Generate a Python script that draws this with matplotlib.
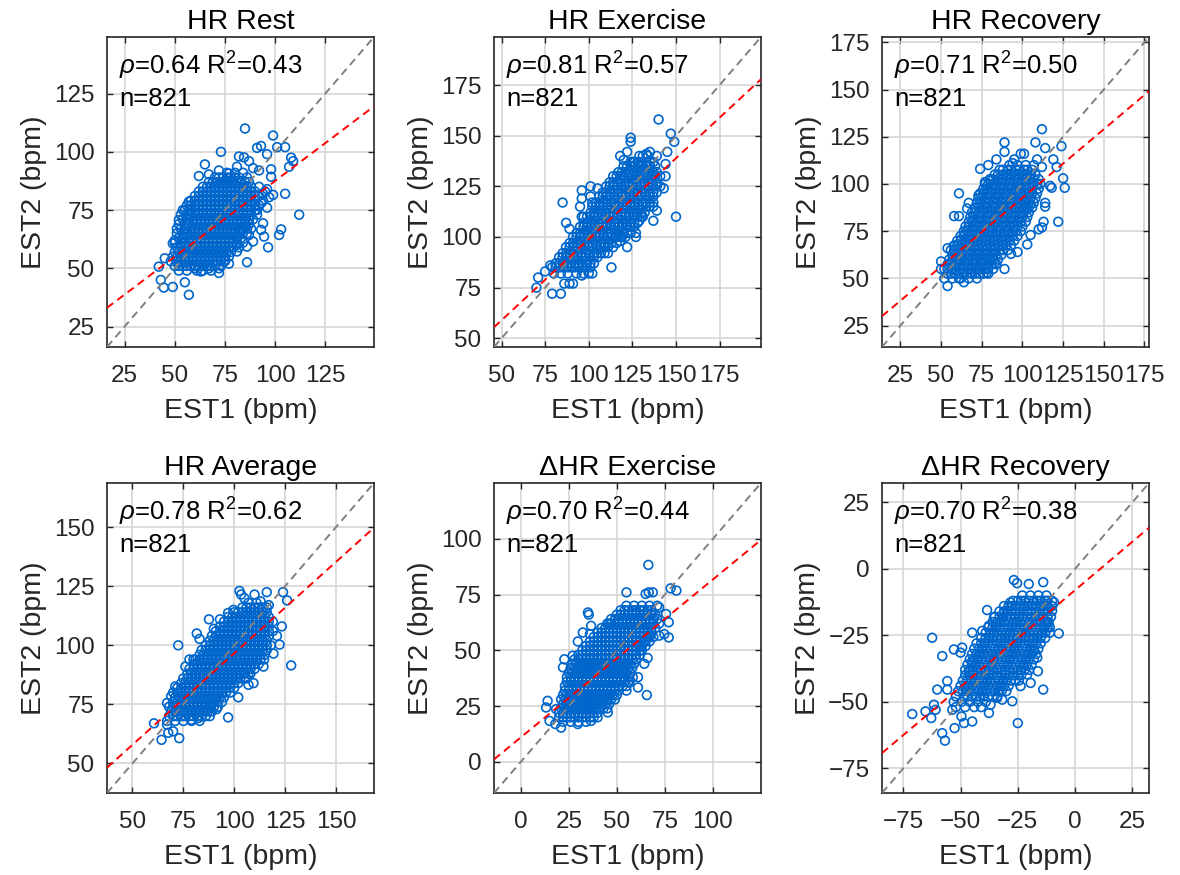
import matplotlib
matplotlib.use("Agg")
import matplotlib.pyplot as plt

plt.rcParams["font.family"] = ["Liberation Sans", "DejaVu Sans"]
plt.rcParams["mathtext.fontset"] = "custom"
plt.rcParams["mathtext.rm"] = "Liberation Sans"
plt.rcParams["mathtext.it"] = "Liberation Sans:italic"

# --- data (EST1, EST2 in bpm) ---
# dense cores: (EST2, [EST1 ...]) rows; loose points: (EST1, EST2)
rest_core = [
    (49, [52, 56, 61, 64, 68]),
    (51, [50, 54, 58, 62, 66, 70, 73]),
    (53, [48, 51, 55, 59, 63, 67, 71, 75]),
    (55, [49, 53, 57, 61, 65, 69, 73, 77]),
    (57, [50, 54, 58, 62, 66, 70, 74, 78]),
    (59, [51, 55, 59, 63, 67, 71, 75, 79, 82]),
    (61, [50, 53, 57, 61, 65, 69, 73, 77, 81, 84]),
    (63, [52, 55, 59, 63, 67, 71, 75, 79, 83]),
    (65, [51, 54, 58, 62, 66, 70, 74, 78, 82, 86]),
    (67, [53, 56, 60, 64, 68, 72, 76, 80, 84, 88]),
    (69, [52, 55, 59, 63, 67, 71, 75, 79, 83, 87]),
    (71, [54, 57, 61, 65, 69, 73, 77, 81, 85, 89]),
    (73, [53, 56, 60, 64, 68, 72, 76, 80, 84, 88, 91]),
    (75, [55, 58, 62, 66, 70, 74, 78, 82, 86, 90]),
    (77, [56, 60, 64, 68, 72, 76, 80, 84, 88, 92]),
    (79, [58, 62, 66, 70, 74, 78, 82, 86, 90, 94]),
    (81, [60, 64, 68, 72, 76, 80, 84, 88, 92]),
    (83, [62, 66, 70, 74, 78, 82, 86, 90, 95]),
    (85, [64, 68, 72, 76, 80, 84, 88, 92]),
    (87, [67, 71, 75, 79, 83, 87]),
    (89, [70, 74, 78, 82, 86]),
    (91, [76, 80, 84]),
]
rest_core2 = [
    (51, [52, 56, 60, 64, 68]),
    (53, [53, 57, 61, 65, 69, 73]),
    (55, [51, 55, 59, 63, 67, 71, 75]),
    (57, [52, 56, 60, 64, 68, 72, 76]),
    (59, [53, 57, 61, 65, 69, 73, 77]),
    (61, [55, 59, 63, 67, 71, 75, 79]),
    (63, [54, 57, 61, 65, 69, 73, 77, 81]),
    (65, [56, 60, 64, 68, 72, 76, 80, 84]),
    (67, [55, 58, 62, 66, 70, 74, 78, 82, 86]),
    (69, [57, 61, 65, 69, 73, 77, 81, 85]),
    (71, [56, 59, 63, 67, 71, 75, 79, 83, 87]),
    (73, [58, 62, 66, 70, 74, 78, 82, 86]),
    (75, [57, 60, 64, 68, 72, 76, 80, 84, 88]),
    (77, [58, 62, 66, 70, 74, 78, 82, 86, 90]),
    (79, [60, 64, 68, 72, 76, 80, 84, 88]),
    (81, [62, 66, 70, 74, 78, 82, 86, 90]),
    (83, [64, 68, 72, 76, 80, 84, 88]),
    (85, [66, 70, 74, 78, 82, 86]),
    (87, [69, 73, 77, 81, 85]),
    (89, [72, 76, 80]),
]
rest_extra = [
    (85, 110), (99, 107), (93, 102.5), (91, 101.7), (101, 102), (105, 102), (96, 99),
    (73, 100), (82, 98), (84.5, 97.6), (87, 96), (108, 97.5), (109, 96), (107, 93.6),
    (65, 94.6), (62, 89.6), (67, 90.3), (72, 92), (81, 93.6), (77, 90.7), (98, 92.5),
    (98, 89.3), (89, 93), (92, 92), (105, 82), (112, 73), (96, 76), (99, 81.5),
    (97, 80.5), (103, 66.7), (102, 64.3), (96.5, 59), (94.5, 63.6), (93, 66.5),
    (94, 69.3), (89, 61.5), (86, 59.3), (87, 64.3), (86, 52.6), (81, 57.2), (81, 60),
    (72, 50), (72, 48), (57, 38.6), (55, 44), (49, 42), (44.5, 41.7), (43, 45),
    (42, 50.7), (45, 54.3), (49, 60.7), (50, 62), (51, 67), (52, 70.7), (57, 78.6),
    (54, 75), (67, 50), (63, 48.6), (77, 52), (75, 53.6), (60, 50), (81, 63.6),
    (83, 66.5), (85, 68), (87, 69), (91, 75), (93, 78), (94, 82), (96, 84),
]

ex_core = [
    (82, [80, 84, 88, 93, 97]),
    (85, [79, 83, 88, 92, 96, 101]),
    (87, [81, 86, 90, 94, 99, 103]),
    (90, [83, 87, 92, 96, 101, 105]),
    (92, [85, 89, 94, 98, 103, 107, 111]),
    (95, [87, 91, 96, 100, 105, 109, 114]),
    (97, [89, 93, 98, 102, 107, 111, 116]),
    (100, [91, 95, 100, 104, 109, 113, 118, 121]),
    (102, [93, 97, 102, 106, 111, 115, 120, 124]),
    (105, [95, 99, 104, 108, 113, 117, 122, 126]),
    (107, [97, 101, 106, 110, 115, 119, 124, 128]),
    (110, [99, 103, 108, 112, 117, 121, 126, 130]),
    (112, [101, 105, 110, 114, 119, 123, 128, 132]),
    (115, [102, 106, 111, 115, 120, 124, 129, 133, 137]),
    (117, [104, 108, 113, 117, 122, 126, 131, 135]),
    (120, [106, 110, 115, 119, 124, 128, 133, 137]),
    (122, [108, 112, 117, 121, 126, 130, 135, 139]),
    (125, [110, 114, 119, 123, 128, 132, 137, 141]),
    (127, [112, 116, 121, 125, 130, 134, 139]),
    (130, [114, 118, 123, 127, 132, 136, 141]),
    (132, [117, 121, 126, 130, 135, 139]),
    (135, [120, 124, 129, 133, 138]),
    (137, [124, 128, 133, 137]),
    (140, [129, 134, 139]),
]
ex_core2 = [
    (85, [81, 85, 90, 94, 98]),
    (87, [83, 88, 92, 96, 101]),
    (90, [85, 89, 94, 98, 103]),
    (92, [87, 91, 96, 100, 105, 109]),
    (95, [89, 93, 98, 102, 107, 111]),
    (97, [91, 95, 100, 104, 109, 113]),
    (100, [93, 97, 102, 106, 111, 115, 119]),
    (102, [95, 99, 104, 108, 113, 117, 122]),
    (105, [97, 101, 106, 110, 115, 119, 124]),
    (107, [99, 103, 108, 112, 117, 121, 126]),
    (110, [101, 105, 110, 114, 119, 123, 128]),
    (112, [103, 107, 112, 116, 121, 125, 130]),
    (115, [104, 108, 113, 117, 122, 126, 131, 135]),
    (117, [106, 110, 115, 119, 124, 128, 133]),
    (120, [108, 112, 117, 121, 126, 130, 135]),
    (122, [110, 114, 119, 123, 128, 132, 137]),
    (125, [112, 116, 121, 125, 130, 134, 139]),
    (127, [114, 118, 123, 127, 132, 136]),
    (130, [116, 120, 125, 129, 134, 138]),
    (132, [119, 123, 128, 132, 137]),
    (135, [122, 126, 131, 135]),
    (137, [126, 130, 135]),
]
ex_extra = [
    (140, 158), (147, 151), (149, 147), (124, 149), (124, 147), (150, 110), (85, 117),
    (96, 123), (96, 119), (101, 125), (105, 124), (87, 107), (89, 104), (96, 110),
    (71, 80), (70, 75), (75, 83), (78, 86), (79, 72), (84, 72), (86, 77), (89, 77),
    (91, 77), (96, 81), (100, 82), (102, 82), (113, 85), (122, 95), (127, 102),
    (127, 100), (118, 98), (116, 100), (137, 108), (143, 124), (144, 130), (144, 136),
    (145, 142), (135, 142), (133, 141), (131, 140), (118, 140), (120, 138), (122, 142),
    (125, 137), (126, 137), (137, 117), (139, 113), (129, 108), (131, 110), (101, 120),
    (102, 117), (95, 115), (97, 110),
]

rec_core = [
    (50, [57, 62, 67, 72]),
    (52.5, [54, 59, 64, 69, 74, 79]),
    (55, [52, 57, 62, 67, 72, 77, 82]),
    (57.5, [54, 59, 64, 69, 74, 79, 84]),
    (60, [55, 60, 65, 70, 75, 80, 85]),
    (62.5, [57, 62, 67, 72, 77, 82, 87]),
    (65, [56, 61, 66, 71, 76, 81, 86, 91]),
    (67.5, [58, 63, 68, 73, 78, 83, 88, 93]),
    (70, [60, 65, 70, 75, 80, 85, 90, 95]),
    (72.5, [62, 67, 72, 77, 82, 87, 92, 97]),
    (75, [64, 69, 74, 79, 84, 89, 94, 99]),
    (77.5, [65, 70, 75, 80, 85, 90, 95, 100]),
    (80, [67, 72, 77, 82, 87, 92, 97, 102]),
    (82.5, [68, 73, 78, 83, 88, 93, 98, 103]),
    (85, [69, 74, 79, 84, 89, 94, 99, 104]),
    (87.5, [71, 76, 81, 86, 91, 96, 101, 106]),
    (90, [72, 77, 82, 87, 92, 97, 102, 107]),
    (92.5, [73, 78, 83, 88, 93, 98, 103, 108]),
    (95, [74, 79, 84, 89, 94, 99, 104, 109]),
    (97.5, [76, 81, 86, 91, 96, 101, 106, 110]),
    (100, [77, 82, 87, 92, 97, 102, 107, 111]),
    (102.5, [80, 85, 90, 95, 100, 105, 110]),
    (105, [83, 88, 93, 98, 103, 108]),
    (107.5, [86, 91, 96, 101, 106]),
    (110, [92, 97, 102, 107]),
]
rec_core2 = [
    (52.5, [56, 61, 66, 71, 76]),
    (55, [54, 59, 64, 69, 74, 79]),
    (57.5, [56, 61, 66, 71, 76, 81]),
    (60, [57, 62, 67, 72, 77, 82]),
    (62.5, [59, 64, 69, 74, 79, 84]),
    (65, [58, 63, 68, 73, 78, 83, 88]),
    (67.5, [60, 65, 70, 75, 80, 85, 90]),
    (70, [62, 67, 72, 77, 82, 87, 92]),
    (72.5, [64, 69, 74, 79, 84, 89, 94]),
    (75, [66, 71, 76, 81, 86, 91, 96]),
    (77.5, [67, 72, 77, 82, 87, 92, 97]),
    (80, [69, 74, 79, 84, 89, 94, 99]),
    (82.5, [70, 75, 80, 85, 90, 95, 100]),
    (85, [71, 76, 81, 86, 91, 96, 101]),
    (87.5, [73, 78, 83, 88, 93, 98, 103]),
    (90, [74, 79, 84, 89, 94, 99, 104]),
    (92.5, [75, 80, 85, 90, 95, 100, 105]),
    (95, [76, 81, 86, 91, 96, 101, 106]),
    (97.5, [78, 83, 88, 93, 98, 103]),
    (100, [79, 84, 89, 94, 99, 104, 109]),
    (102.5, [82, 87, 92, 97, 102, 107]),
    (105, [85, 90, 95, 100, 105]),
    (107.5, [88, 93, 98, 103]),
]
rec_extra = [
    (112, 129), (89, 122), (89, 117), (108, 122), (114, 119), (124, 120), (99, 116),
    (101, 116), (84, 113), (74, 108), (79, 110), (95, 113), (94, 111), (109, 113),
    (112, 109), (119, 113), (121, 109), (125, 103), (126, 98), (118, 98), (117, 99),
    (61, 95), (114, 90), (114, 88), (122, 80), (113, 80), (112, 77), (110, 76),
    (105, 73), (103, 68), (97, 64), (93, 63), (83, 58), (89, 55), (78, 53), (68, 53),
    (64, 48), (61, 50), (54, 46), (52, 50), (50, 55), (50, 59), (54, 66), (58, 83),
    (61, 83), (66, 87), (67, 90), (73, 94), (77, 101), (80, 102), (64, 73), (58, 67),
    (103, 87), (105, 89),
]

avg_core = [
    (68, [67, 71, 75, 79, 83]),
    (70, [68, 72, 76, 80, 84, 88]),
    (72, [69, 73, 77, 81, 85, 89]),
    (74, [68, 72, 76, 80, 84, 88, 92]),
    (76, [70, 74, 78, 82, 86, 90, 94]),
    (78, [71, 75, 79, 83, 87, 91, 95]),
    (80, [70, 74, 78, 82, 86, 90, 94, 98]),
    (82, [72, 76, 80, 84, 88, 92, 96, 100]),
    (84, [74, 78, 82, 86, 90, 94, 98, 102]),
    (86, [75, 79, 83, 87, 91, 95, 99, 103, 106]),
    (88, [77, 81, 85, 89, 93, 97, 101, 105, 108]),
    (90, [78, 82, 86, 90, 94, 98, 102, 106, 110]),
    (92, [80, 84, 88, 92, 96, 100, 104, 108, 112]),
    (94, [81, 85, 89, 93, 97, 101, 105, 109, 113]),
    (96, [83, 87, 91, 95, 99, 103, 107, 111, 115]),
    (98, [84, 88, 92, 96, 100, 104, 108, 112, 116]),
    (100, [86, 90, 94, 98, 102, 106, 110, 114, 118]),
    (102, [88, 92, 96, 100, 104, 108, 112, 116]),
    (104, [89, 93, 97, 101, 105, 109, 113, 117]),
    (106, [91, 95, 99, 103, 107, 111, 115, 119]),
    (108, [93, 97, 101, 105, 109, 113, 117]),
    (110, [95, 99, 103, 107, 111, 115, 119]),
    (112, [97, 101, 105, 109, 113, 117]),
    (114, [100, 104, 108, 112, 116]),
    (116, [104, 108, 112, 116]),
    (118, [107, 111]),
]
avg_core2 = [
    (70, [70, 74, 78, 82, 86]),
    (72, [71, 75, 79, 83, 87]),
    (74, [70, 74, 78, 82, 86, 90]),
    (76, [72, 76, 80, 84, 88, 92]),
    (78, [73, 77, 81, 85, 89, 93]),
    (80, [72, 76, 80, 84, 88, 92, 96]),
    (82, [74, 78, 82, 86, 90, 94, 98]),
    (84, [76, 80, 84, 88, 92, 96, 100]),
    (86, [77, 81, 85, 89, 93, 97, 101, 105]),
    (88, [79, 83, 87, 91, 95, 99, 103, 107]),
    (90, [80, 84, 88, 92, 96, 100, 104, 108]),
    (92, [82, 86, 90, 94, 98, 102, 106, 110]),
    (94, [83, 87, 91, 95, 99, 103, 107, 111]),
    (96, [85, 89, 93, 97, 101, 105, 109, 113]),
    (98, [86, 90, 94, 98, 102, 106, 110, 114]),
    (100, [88, 92, 96, 100, 104, 108, 112, 116]),
    (102, [90, 94, 98, 102, 106, 110, 114]),
    (104, [91, 95, 99, 103, 107, 111, 115]),
    (106, [93, 97, 101, 105, 109, 113, 117]),
    (108, [95, 99, 103, 107, 111, 115]),
    (110, [97, 101, 105, 109, 113, 117]),
    (112, [99, 103, 107, 111, 115]),
    (114, [102, 106, 110, 114]),
    (116, [106, 110, 114]),
]
avg_extra = [
    (102.6, 123), (103.4, 121.5), (105, 120), (110, 121.5), (116, 122.5), (124, 122.5),
    (126, 119), (128, 91.5), (72.5, 100), (81.6, 105), (83, 102.7), (87.6, 111),
    (90, 107), (93, 111), (76, 91), (78, 94), (80, 94), (71, 82.6), (67, 75.6),
    (69, 78.4), (60.6, 67), (67, 66.4), (64.3, 60), (67.6, 63), (70, 63.6), (73, 60.7),
    (97, 69.5), (102, 78), (107, 83.3), (109.5, 84), (114.4, 91), (114.7, 94),
    (119.3, 96.5), (122.3, 100.3), (123.4, 108), (121, 104), (88.6, 73.5), (91.4, 73),
    (79, 68.5), (82.4, 69.2), (117, 117), (113, 118.6), (97, 113.7), (99.6, 115),
]

dex_core = [
    (18, [22, 26, 30, 34]),
    (20, [20, 24, 28, 32, 36, 40]),
    (22, [20, 24, 28, 32, 36, 40]),
    (24, [21, 25, 29, 33, 37, 41, 45]),
    (26, [22, 26, 30, 34, 38, 42, 46]),
    (28, [21, 25, 29, 33, 37, 41, 45, 49]),
    (30, [22, 26, 30, 34, 38, 42, 46, 50]),
    (32, [23, 27, 31, 35, 39, 43, 47, 51]),
    (34, [23, 27, 31, 35, 39, 43, 47, 51, 55]),
    (36, [24, 28, 32, 36, 40, 44, 48, 52, 56]),
    (38, [24, 28, 32, 36, 40, 44, 48, 52, 56]),
    (40, [25, 29, 33, 37, 41, 45, 49, 53, 57]),
    (42, [26, 30, 34, 38, 42, 46, 50, 54, 58]),
    (44, [27, 31, 35, 39, 43, 47, 51, 55, 59]),
    (46, [28, 32, 36, 40, 44, 48, 52, 56, 60]),
    (48, [30, 34, 38, 42, 46, 50, 54, 58, 62]),
    (50, [32, 36, 40, 44, 48, 52, 56, 60, 63]),
    (52, [34, 38, 42, 46, 50, 54, 58, 62, 65]),
    (54, [36, 40, 44, 48, 52, 56, 60, 64, 67]),
    (56, [38, 42, 46, 50, 54, 58, 62, 66, 69]),
    (58, [40, 44, 48, 52, 56, 60, 64, 68]),
    (60, [42, 46, 50, 54, 58, 62, 66, 70]),
    (62, [45, 49, 53, 57, 61, 65, 69, 72]),
    (64, [47, 51, 55, 59, 63, 67, 71]),
    (66, [50, 54, 58, 62, 66, 70]),
    (68, [52, 56, 60, 64, 68]),
    (70, [55, 59, 63, 67, 71]),
]
dex_core2 = [
    (20, [22, 26, 30, 34, 38]),
    (22, [22, 26, 30, 34, 38]),
    (24, [23, 27, 31, 35, 39, 43]),
    (26, [24, 28, 32, 36, 40, 44]),
    (28, [23, 27, 31, 35, 39, 43, 47]),
    (30, [24, 28, 32, 36, 40, 44, 48]),
    (32, [25, 29, 33, 37, 41, 45, 49]),
    (34, [25, 29, 33, 37, 41, 45, 49, 53]),
    (36, [26, 30, 34, 38, 42, 46, 50, 54]),
    (38, [26, 30, 34, 38, 42, 46, 50, 54]),
    (40, [27, 31, 35, 39, 43, 47, 51, 55]),
    (42, [28, 32, 36, 40, 44, 48, 52, 56]),
    (44, [29, 33, 37, 41, 45, 49, 53, 57]),
    (46, [30, 34, 38, 42, 46, 50, 54, 58]),
    (48, [32, 36, 40, 44, 48, 52, 56, 60]),
    (50, [34, 38, 42, 46, 50, 54, 58, 62]),
    (52, [36, 40, 44, 48, 52, 56, 60, 63]),
    (54, [38, 42, 46, 50, 54, 58, 62, 65]),
    (56, [40, 44, 48, 52, 56, 60, 64, 67]),
    (58, [42, 46, 50, 54, 58, 62, 66]),
    (60, [44, 48, 52, 56, 60, 64, 68]),
    (62, [47, 51, 55, 59, 63, 67]),
    (64, [49, 53, 57, 61, 65, 69]),
    (66, [52, 56, 60, 64, 68]),
    (68, [54, 58, 62, 66]),
]
dex_extra = [
    (66.4, 88.3), (78, 77.8), (81, 76.8), (55, 76), (65, 75.3), (66.6, 76), (68.7, 76),
    (35, 67), (35.4, 66), (29.7, 54), (36, 57.3), (36.6, 61), (46, 62), (75.6, 66.3),
    (77, 62.6), (77, 55.8), (74.7, 57.3), (72, 56.6), (66, 46.6), (64.3, 44),
    (65.6, 30), (61, 33.4), (55, 32), (61, 38), (22, 42.4), (22.7, 46), (27, 47.6),
    (14, 27.4), (13.2, 24.4), (15, 18.4), (18, 17), (21, 15.4), (29.7, 17),
    (36.6, 18.4), (18.4, 23.7), (23.6, 26), (45.3, 22.2), (56.5, 35.6), (58.3, 38),
    (68.7, 67), (72, 69.3), (60, 67), (63.5, 67.8), (32.3, 58), (64.3, 59.6), (67, 57.3),
]

drec_core = [
    (-52, [-52, -48, -44, -41]),
    (-50, [-53, -49.5, -46, -42.5, -39]),
    (-48, [-52, -48.5, -45, -41.5, -38, -34]),
    (-46, [-51, -47.5, -44, -40.5, -37, -33, -30]),
    (-44, [-50, -46.5, -43, -39.5, -36, -32.5, -29]),
    (-42, [-49, -45.5, -42, -38.5, -35, -31.5, -28, -24.5]),
    (-40, [-48, -44.5, -41, -37.5, -34, -30.5, -27, -23.5]),
    (-38, [-48, -44.5, -41, -37.5, -34, -30.5, -27, -23.5, -20]),
    (-36, [-47, -43.5, -40, -36.5, -33, -29.5, -26, -22.5, -19]),
    (-34, [-46, -42.5, -39, -35.5, -32, -28.5, -25, -21.5, -18]),
    (-32, [-45, -41.5, -38, -34.5, -31, -27.5, -24, -20.5, -17]),
    (-30, [-44, -40.5, -37, -33.5, -30, -26.5, -23, -19.5, -16]),
    (-28, [-43, -39.5, -36, -32.5, -29, -25.5, -22, -18.5, -15]),
    (-26, [-41, -37.5, -34, -30.5, -27, -23.5, -20, -16.5, -13]),
    (-24, [-39, -35.5, -32, -28.5, -25, -21.5, -18, -14.5, -11]),
    (-22, [-38, -34.5, -31, -27.5, -24, -20.5, -17, -13.5, -11]),
    (-20, [-36, -32.5, -29, -25.5, -22, -18.5, -15, -11.5]),
    (-18, [-35, -31.5, -28, -24.5, -21, -17.5, -14, -10.5]),
    (-16, [-33, -29.5, -26, -22.5, -19, -15.5, -12]),
    (-14, [-31, -27.5, -24, -20.5, -17, -13.5, -10]),
    (-12, [-27, -23.5, -20, -16.5, -13, -10]),
    (-10, [-23, -19.5, -16, -12.5]),
]
drec_core2 = [
    (-48, [-47, -43, -40, -36]),
    (-46, [-49, -46, -42, -39, -35, -32]),
    (-44, [-48, -45, -41, -38, -34, -31]),
    (-42, [-47, -44, -40, -37, -33, -30, -26]),
    (-40, [-46, -43, -39, -36, -32, -29, -25]),
    (-38, [-46, -43, -39, -36, -32, -29, -25, -22]),
    (-36, [-45, -42, -38, -35, -31, -28, -24, -21]),
    (-34, [-44, -41, -37, -34, -30, -27, -23, -20]),
    (-32, [-43, -40, -36, -33, -29, -26, -22, -19]),
    (-30, [-42, -39, -35, -32, -28, -25, -21, -18]),
    (-28, [-41, -38, -34, -31, -27, -24, -20, -17]),
    (-26, [-39, -36, -32, -29, -25, -22, -18, -15]),
    (-24, [-37, -34, -30, -27, -23, -20, -16, -13]),
    (-22, [-36, -33, -29, -26, -22, -19, -15, -12]),
    (-20, [-34, -31, -27, -24, -20, -17, -13]),
    (-18, [-33, -30, -26, -23, -19, -16, -12]),
    (-16, [-31, -28, -24, -21, -17, -14]),
    (-14, [-29, -26, -22, -19, -15, -12]),
    (-12, [-25, -22, -18, -15, -12]),
]
drec_extra = [
    (-26.7, -4.2), (-25.3, -5.4), (-20.2, -5.7), (-13.9, -5), (-38.4, -15.5),
    (-62.4, -25.9), (-58, -32.8), (-52.9, -30.3), (-49.3, -29.6), (-50, -31.5),
    (-44.9, -24), (-40.5, -23.3), (-37.6, -21.4), (-35.4, -18.3), (-31.1, -16.4),
    (-29.6, -15.8), (-7.1, -24.3), (-13.9, -45.4), (-16.2, -38.5), (-19.4, -42.9),
    (-23.8, -44.1), (-20.9, -39.7), (-27.4, -49.8), (-31.8, -49.2), (-25, -58),
    (-36.9, -51.1), (-37.6, -54.2), (-34, -48.5), (-71.1, -54.6), (-65.3, -53.6),
    (-62.8, -56.1), (-61.6, -51.1), (-60.9, -53), (-55.8, -42.2), (-55.8, -45.4),
    (-60.2, -45.4), (-58, -61.8), (-56.8, -64.6), (-52.6, -59.9), (-48.5, -58),
    (-44.9, -57.4), (-49.6, -55.5), (-53.6, -53), (-12.2, -20.2), (-10, -15.8),
    (-9.2, -12.6), (-28.2, -12.6), (-28.9, -13.9), (-44.9, -34.7), (-46.4, -38.5),
    (-16.5, -33.4), (-18, -30.9),
]

titles = ["HR Rest", "HR Exercise", "HR Recovery",
          "HR Average", "\u0394HR Exercise", "\u0394HR Recovery"]
rho = [0.64, 0.81, 0.71, 0.78, 0.70, 0.70]
r2 = [0.43, 0.57, 0.50, 0.62, 0.44, 0.38]
n_obs = 821
fit_slope = [0.65, 0.80, 0.726, 0.774, 0.708, 0.727]
fit_icpt = [22.5, 18.9, 20.05, 19.2, 11.0, -8.0]
lims = [(16.2, 149.3), (45.7, 198.7), (13.7, 177.8),
        (37.5, 168.7), (-13.9, 125.0), (-84.3, 32.3)]
ticks = [[25, 50, 75, 100, 125], [50, 75, 100, 125, 150, 175],
         [25, 50, 75, 100, 125, 150, 175], [50, 75, 100, 125, 150],
         [0, 25, 50, 75, 100], [-75, -50, -25, 0, 25]]
cores = [rest_core + rest_core2, ex_core + ex_core2, rec_core + rec_core2,
         avg_core + avg_core2, dex_core + dex_core2, drec_core + drec_core2]
extras = [rest_extra, ex_extra, rec_extra, avg_extra, dex_extra, drec_extra]

BLUE = "#0066CC"
INK = "#262626"


def expand(core, extra):
    xs, ys = [], []
    for y, row in core:
        xs += row
        ys += [y] * len(row)
    xs += [p[0] for p in extra]
    ys += [p[1] for p in extra]
    return xs, ys


fig = plt.figure(figsize=(11.8, 8.75), dpi=100)
W, H = 1180, 875
lefts = [107, 494, 882]
tops = [37, 483]
aw, ah = 267, 310

for i in range(6):
    r, c = divmod(i, 3)
    ax = fig.add_axes([lefts[c] / W, (H - tops[r] - ah) / H, aw / W, ah / H])
    lo, hi = lims[i]
    ex1, ex2 = expand(cores[i], extras[i])

    ax.scatter(ex1, ex2, s=40, facecolors="none", edgecolors=BLUE,
               linewidths=1.2, zorder=3)
    ax.plot([lo, hi], [lo, hi], color="#808080", lw=1.4,
            ls=(0, (4, 2.6)), zorder=4)
    ax.plot([lo, hi], [fit_slope[i] * lo + fit_icpt[i], fit_slope[i] * hi + fit_icpt[i]],
            color="red", lw=1.4, ls=(0, (4, 2.6)), zorder=5)

    ax.set_xlim(lo, hi)
    ax.set_ylim(lo, hi)
    ax.set_xticks(ticks[i])
    ax.set_yticks(ticks[i])
    ax.grid(True, color="#d6d6d6", lw=1.2, zorder=0)
    ax.set_axisbelow(True)
    ax.tick_params(direction="in", length=4, width=1.0, colors=INK,
                   labelsize=17.5, top=True, right=True)
    ax.tick_params(axis="x", pad=13)
    ax.tick_params(axis="y", pad=9)
    for sp in ax.spines.values():
        sp.set_linewidth(1.2)
        sp.set_color(INK)

    ax.set_title(titles[i], fontsize=20.5, color="black", pad=6)
    ax.set_xlabel("EST1 (bpm)", fontsize=20.5, color=INK, labelpad=8)
    ax.set_ylabel("EST2 (bpm)", fontsize=20.5, color=INK, labelpad=5)

    ax.text(0.045, 0.958, r"$\rho$=%.2f R$^2$=%.2f" % (rho[i], r2[i]),
            transform=ax.transAxes, va="top", ha="left", fontsize=18.5, color="black")
    ax.text(0.045, 0.838, "n=%d" % n_obs, transform=ax.transAxes,
            va="top", ha="left", fontsize=18.5, color="black")

fig.savefig("out.png", dpi=100)
